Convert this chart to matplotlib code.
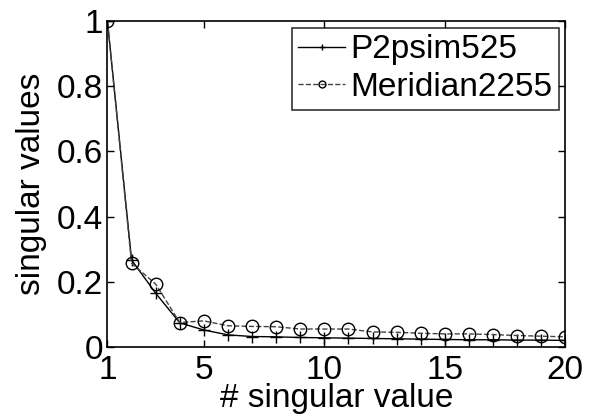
import matplotlib
matplotlib.use("Agg")
import matplotlib.pyplot as plt
import numpy as np

plt.rcParams['font.family'] = ['Liberation Sans', 'DejaVu Sans']

idx = np.arange(1, 21)
p2psim = [1.0, 0.267, 0.165, 0.074, 0.052, 0.037, 0.032, 0.031, 0.029, 0.028,
          0.027, 0.026, 0.025, 0.024, 0.023, 0.022, 0.022, 0.021, 0.021, 0.020]
meridian = [1.0, 0.257, 0.193, 0.075, 0.080, 0.065, 0.063, 0.062, 0.055, 0.055,
            0.055, 0.046, 0.045, 0.042, 0.040, 0.040, 0.038, 0.035, 0.033, 0.031]

fig = plt.figure(figsize=(5.97, 4.15), dpi=100)
ax = fig.add_axes([0.180, 0.164, 0.767, 0.785])

ax.plot(idx, p2psim, '-', color='black', lw=1.0, marker='+', ms=9,
        mew=1.0, label='P2psim525')
ax.plot(idx, meridian, '--', color='#444444', lw=1.0, marker='o', ms=9,
        mfc='none', mec='black', mew=1.0, label='Meridian2255')

ax.set_xlim(1, 20)
ax.set_ylim(0, 1)
ax.set_xticks([1, 5, 10, 15, 20])
ax.set_yticks([0, 0.2, 0.4, 0.6, 0.8, 1])
ax.set_yticklabels(['0', '0.2', '0.4', '0.6', '0.8', '1'])
ax.tick_params(direction='in', top=True, right=True, labelsize=24,
               length=5, width=1.0)
ax.tick_params(axis='y', pad=3)
ax.tick_params(axis='x', pad=6)
for s in ax.spines.values():
    s.set_linewidth(1.2)

ax.set_xlabel('# singular value', fontsize=24, labelpad=-2)
ax.set_ylabel('singular values', fontsize=24, labelpad=7)

leg = ax.legend(loc='upper right', fontsize=24, frameon=True, fancybox=False,
                edgecolor='black', handlelength=1.4, handletextpad=0.15,
                borderpad=0.2, labelspacing=0.2, borderaxespad=0.2,
                markerscale=0.55)
leg.get_frame().set_linewidth(1.2)

fig.savefig('out.png', dpi=100)
